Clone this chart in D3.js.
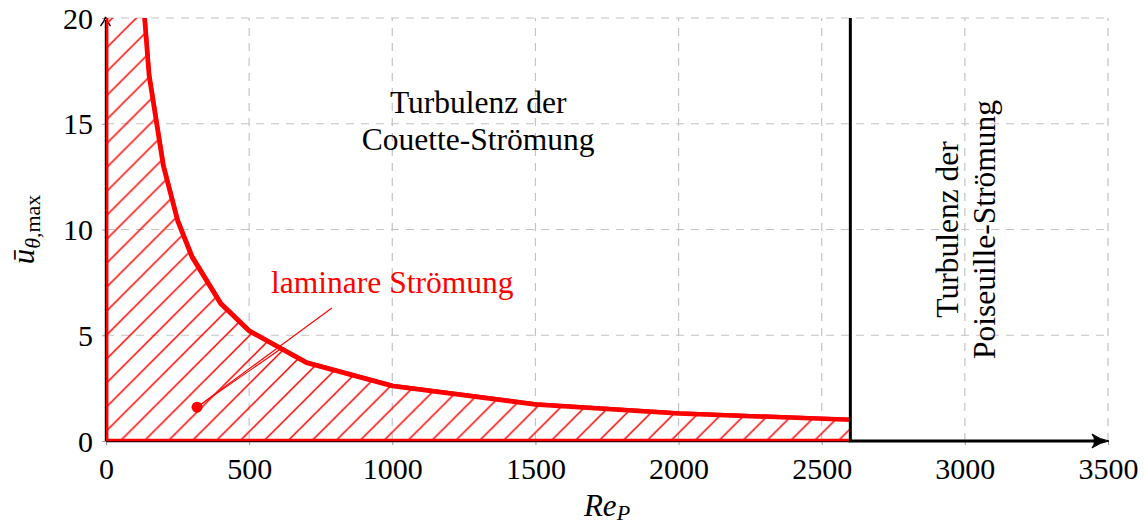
<!DOCTYPE html>
<html>
<head>
<meta charset="utf-8">
<script src="https://cdn.jsdelivr.net/npm/d3@7"></script>
<style>
  html, body { margin: 0; padding: 0; background: #fff; }
  svg { display: block; }
  text { font-family: "Liberation Serif", "DejaVu Serif", serif; }
</style>
</head>
<body>
<svg id="chart" width="1145" height="528"></svg>
<script>
// Stability boundary: maximal mean azimuthal velocity vs. Poiseuille Reynolds number
const reP = [100, 150, 200, 250, 300, 400, 500, 700, 1000, 1500, 2000, 2600];
const uMax = [26, 17.3, 13, 10.4, 8.7, 6.5, 5.2, 3.7, 2.6, 1.73, 1.3, 1.0];

const xTicks = [0, 500, 1000, 1500, 2000, 2500, 3000, 3500];
const yTicks = [0, 5, 10, 15, 20];

const reCritical = 2600;                 // onset of Poiseuille turbulence
const markerPoint = [318, 1.6];          // dot inside the laminar region
const pinEnds = [[789, 6.29], [615, 4.4]];

const couetteLabel = ["Turbulenz der", "Couette-Strömung"];
const poiseuilleLabel = ["Turbulenz der", "Poiseuille-Strömung"];
const laminarLabel = "laminare Strömung";

const svg = d3.select("#chart");
const x = d3.scaleLinear().domain([0, 3500]).range([106, 1108]);
const y = d3.scaleLinear().domain([0, 20]).range([441, 18]);
const RED = "#ff0000";

// Hatch pattern (north-east lines)
const s = 23.93;
const defs = svg.append("defs");
const pat = defs.append("pattern")
  .attr("id", "hatch")
  .attr("patternUnits", "userSpaceOnUse")
  .attr("width", s).attr("height", s)
  .attr("x", (x(0) + 14 + y(0)) % s).attr("y", 0);
pat.append("path")
  .attr("d", `M0,${s} L${s},0 M-2,2 L2,-2 M${s - 2},${s + 2} L${s + 2},${s - 2}`)
  .attr("stroke", RED).attr("stroke-width", 1.5);

defs.append("clipPath").attr("id", "plotclip")
  .append("rect")
  .attr("x", x(0) - 3).attr("y", y(20))
  .attr("width", x(3500) - x(0) + 6).attr("height", y(0) - y(20) + 3);
defs.append("clipPath").attr("id", "regionclip")
  .append("rect")
  .attr("x", x(0) - 3).attr("y", y(20))
  .attr("width", x(reCritical) - x(0) + 3).attr("height", y(0) - y(20) + 3);

// Grid
const grid = svg.append("g")
  .attr("stroke", "#c4c4c4").attr("stroke-width", 1.2)
  .attr("stroke-dasharray", "8,7");
grid.selectAll("line.v").data(xTicks.filter(d => d > 0)).join("line")
  .attr("x1", d => x(d)).attr("x2", d => x(d))
  .attr("y1", y(0)).attr("y2", y(20));
grid.selectAll("line.h").data(yTicks.filter(d => d > 0)).join("line")
  .attr("x1", x(0)).attr("x2", x(3500))
  .attr("y1", d => y(d)).attr("y2", d => y(d));

// Axes: ticks and labels via d3 axis generators
const xAxis = svg.append("g")
  .attr("transform", `translate(0,${y(0)})`)
  .call(d3.axisBottom(x).tickValues(xTicks).tickSize(4).tickPadding(8).tickFormat(d3.format("d")));
const yAxis = svg.append("g")
  .attr("transform", `translate(${x(0)},0)`)
  .call(d3.axisLeft(y).tickValues(yTicks).tickSize(4).tickPadding(9).tickFormat(d3.format("d")));
[xAxis, yAxis].forEach(a => {
  a.select(".domain").remove();
  a.selectAll(".tick line").attr("stroke", "#9a9a9a").attr("stroke-width", 1);
  a.selectAll(".tick text").attr("font-size", 30).attr("fill", "#000")
    .attr("font-family", "Liberation Serif, serif");
});
xAxis.selectAll(".tick text").attr("dy", "0.88em");
yAxis.selectAll(".tick text").attr("dy", "0.34em");

// Thin axis lines
svg.append("line")
  .attr("x1", x(0)).attr("x2", x(reCritical))
  .attr("y1", y(0) + 0.5).attr("y2", y(0) + 0.5)
  .attr("stroke", "#000").attr("stroke-width", 1.3);
svg.append("line")
  .attr("x1", x(0) - 0.5).attr("x2", x(0) - 0.5)
  .attr("y1", y(0)).attr("y2", y(20) + 2)
  .attr("stroke", "#000").attr("stroke-width", 1.4);
// y-axis arrow head
svg.append("path")
  .attr("d", `M${x(0) - 5.5},${y(20) + 8} Q${x(0) - 1.5},${y(20) + 3} ${x(0) - 0.5},${y(20) - 1}
              Q${x(0) + 0.5},${y(20) + 3} ${x(0) + 4.5},${y(20) + 8}`)
  .attr("fill", "none").attr("stroke", "#000").attr("stroke-width", 1.3);

// Laminar region: hatched area between the boundary curve and the axes
const plot = svg.append("g").attr("clip-path", "url(#plotclip)");
const region = [[0, 0], [0, uMax[0]]]
  .concat(reP.map((r, i) => [r, uMax[i]]))
  .concat([[reP[reP.length - 1], 0]]);
plot.append("g").attr("clip-path", "url(#regionclip)")
  .append("path")
  .attr("d", d3.line().x(d => x(d[0])).y(d => y(d[1]))(region) + "Z")
  .attr("fill", "url(#hatch)")
  .attr("stroke", RED).attr("stroke-width", 2.4)
  .attr("transform", "translate(1.2,-1)");
plot.append("path")
  .attr("d", d3.line().x((d, i) => x(reP[i])).y(d => y(d))(uMax))
  .attr("fill", "none").attr("stroke", RED)
  .attr("stroke-width", 4.5).attr("stroke-linejoin", "round");

// Critical Reynolds number line and thick x-axis continuation
svg.append("path")
  .attr("d", `M${x(reCritical)},${y(20)} L${x(reCritical)},${y(0)} L${x(3500) - 4},${y(0)}`)
  .attr("fill", "none").attr("stroke", "#000").attr("stroke-width", 3);
svg.append("path")
  .attr("d", `M${x(3500) - 16},${y(0) - 7} Q${x(3500) - 8},${y(0) - 1.5} ${x(3500) + 1},${y(0)}
              Q${x(3500) - 8},${y(0) + 1.5} ${x(3500) - 16},${y(0) + 7}
              Q${x(3500) - 11},${y(0)} ${x(3500) - 16},${y(0) - 7}Z`)
  .attr("fill", "#000").attr("stroke", "#000").attr("stroke-width", 1);

// Pin from the dot to the label
const pin = svg.append("g").attr("stroke", RED).attr("stroke-width", 1.1);
pinEnds.forEach(p => {
  pin.append("line")
    .attr("x1", x(markerPoint[0])).attr("y1", y(markerPoint[1]))
    .attr("x2", x(p[0])).attr("y2", y(p[1]));
});
svg.append("circle")
  .attr("cx", x(markerPoint[0])).attr("cy", y(markerPoint[1]))
  .attr("r", 5.5).attr("fill", RED);

svg.append("text")
  .attr("x", x(1000)).attr("y", y(7.0) + 0.5)
  .attr("text-anchor", "middle").attr("font-size", 31.5).attr("fill", RED)
  .text(laminarLabel);

// Region labels
couetteLabel.forEach((t, i) => {
  svg.append("text")
    .attr("x", x(1300)).attr("y", y(15.5) + i * 37)
    .attr("text-anchor", "middle").attr("font-size", 31.5).attr("fill", "#000")
    .text(t);
});
poiseuilleLabel.forEach((t, i) => {
  svg.append("text")
    .attr("transform", `translate(${x(3000) - 7 + i * 37},${y(10.0)}) rotate(-90)`)
    .attr("text-anchor", "middle").attr("font-size", 31.5).attr("fill", "#000")
    .text(t);
});

// Axis titles
const xt = svg.append("text")
  .attr("x", x(1750)).attr("y", 516)
  .attr("text-anchor", "middle").attr("font-size", 31).attr("fill", "#000");
xt.append("tspan").attr("font-style", "italic").text("Re");
xt.append("tspan").attr("font-style", "italic").attr("font-size", 22).attr("dy", 4).text("P");

const yt = svg.append("text")
  .attr("transform", `translate(34,${y(10)}) rotate(-90)`)
  .attr("text-anchor", "middle").attr("font-size", 31).attr("fill", "#000");
yt.append("tspan").attr("font-style", "italic").text("ū");
yt.append("tspan").attr("font-style", "italic").attr("font-size", 22).attr("dy", 6).text("θ");
yt.append("tspan").attr("font-size", 22).text(",max");
</script>
</body>
</html>
